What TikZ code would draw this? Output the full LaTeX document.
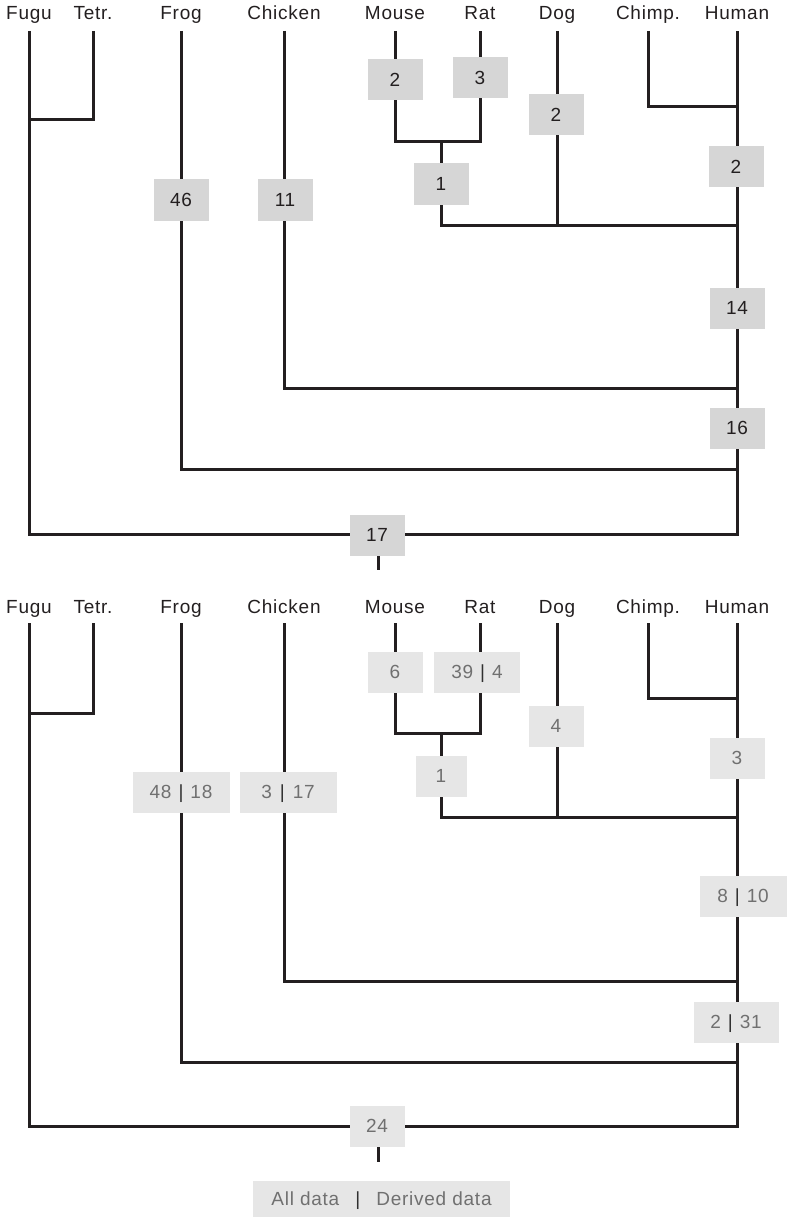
\documentclass[tikz,border=0pt]{standalone}
\usepackage{fontspec}
\setmainfont{Liberation Sans}[LetterSpace=4]
\definecolor{ink}{HTML}{231F20}
\definecolor{boxdark}{HTML}{D6D6D6}
\definecolor{boxlight}{HTML}{E6E6E6}
\definecolor{greytext}{HTML}{707070}
\definecolor{barcol}{HTML}{303030}
\newcommand\sep[1]{\hspace{#1}\textcolor{barcol}{|}\hspace{#1}}
\newcommand\drawtree[9]{%
  \coordinate (#1fugu) at (29,#2);
  \coordinate (#1tetr) at (93,#2);
  \coordinate (#1frog) at (181,#2);
  \coordinate (#1chicken) at (284,#2);
  \coordinate (#1mouse) at (395,#2);
  \coordinate (#1rat) at (480,#2);
  \coordinate (#1dog) at (557,#2);
  \coordinate (#1chimp) at (648,#2);
  \coordinate (#1human) at (737,#2);
  \coordinate (#1ft) at (29,#3);
  \coordinate (#1mr) at (441,#4);
  \coordinate (#1ch) at (737,#5);
  \coordinate (#1rd) at (737,#6);
  \coordinate (#1dogj) at (557,#6);
  \coordinate (#1chj) at (737,#7);
  \coordinate (#1frj) at (737,#8);
  \coordinate (#1rootr) at (737,#9);
  \coordinate (#1root) at (378,#9);
  \coordinate (#1stub) at (378,{#9+36});
  \draw[branch] (#1tetr) |- (#1ft);
  \draw[branch] (#1mouse) |- (#1mr) -| (#1rat);
  \draw[branch] (#1mr) |- (#1rd);
  \draw[branch] (#1dog) -- (#1dogj);
  \draw[branch] (#1chimp) |- (#1ch);
  \draw[branch] (#1chicken) |- (#1chj);
  \draw[branch] (#1frog) |- (#1frj);
  \draw[branch] (#1fugu) |- (#1rootr) -- (#1human);
  \draw[branch] (#1root) -- (#1stub);
}
\begin{document}
\begin{tikzpicture}[x=1pt,y=-1pt,
  font=\fontsize{19}{23}\selectfont,
  branch/.style={draw=ink,line width=3pt,line join=miter},
  lab/.style={anchor=base,text=ink,inner sep=0pt},
  numbox/.style={rectangle,inner sep=0pt,minimum width=55pt,minimum height=41pt,
    text height=13.6pt,text depth=0pt},
  boxA/.style={numbox,fill=boxdark,text=ink},
  boxB/.style={numbox,fill=boxlight,text=greytext}]
\useasboundingbox (0,0) rectangle (789,1217);
\drawtree{a}{31}{120}{142}{107}{225}{388}{469}{534}
\drawtree{b}{623}{713}{733}{698}{817}{981}{1062}{1126}
% labels
\foreach \n/\x/\t in {Fugu/29/Fugu,Tetr/93/Tetr.,Frog/181/Frog,Chicken/284/Chicken,Mouse/395/Mouse,Rat/480/Rat,Dog/557/Dog,Chimp/648/Chimp.,Human/737/Human}{
  \node[lab] (aL\n) at (\x,19.5) {\t};
  \node[lab] (bL\n) at (\x,613) {\t};
}
% boxes, top tree
\node[boxA] (aBmouse) at (395,80) {2};
\node[boxA] (aBrat) at (480,78) {3};
\node[boxA] (aBdog) at (556,115) {2};
\node[boxA] (aBmr) at (441,184) {1};
\node[boxA] (aBhuman) at (736,167) {2};
\node[boxA] (aBfrog) at (181,200) {46};
\node[boxA] (aBchicken) at (285,200) {11};
\node[boxA] (aBmam) at (737,308) {14};
\node[boxA] (aBamn) at (737,428) {16};
\node[boxA] (aBroot) at (377,535) {17};
% boxes, bottom tree
\node[boxB] (bBmouse) at (395,672) {6};
\node[boxB,minimum width=86pt] (bBrat) at (477,672) {39\sep{7pt}4};
\node[boxB] (bBdog) at (556,726) {4};
\node[boxB,minimum width=51pt] (bBmr) at (441,776) {1};
\node[boxB] (bBhuman) at (737,758) {3};
\node[boxB,minimum width=97pt] (bBfrog) at (181,792) {48\sep{7pt}18};
\node[boxB,minimum width=97pt] (bBchicken) at (288,792) {3\sep{8pt}17};
\node[boxB,minimum width=87pt] (bBmam) at (743,896) {8\sep{7pt}10};
\node[boxB,minimum width=85pt] (bBamn) at (736,1022) {2\sep{7pt}31};
\node[boxB] (bBroot) at (377,1126) {24};
% legend
\node[boxB,minimum width=257pt,minimum height=36pt] (legend) at (381.5,1199) {All data\sep{16pt}Derived data};
\end{tikzpicture}
\end{document}
